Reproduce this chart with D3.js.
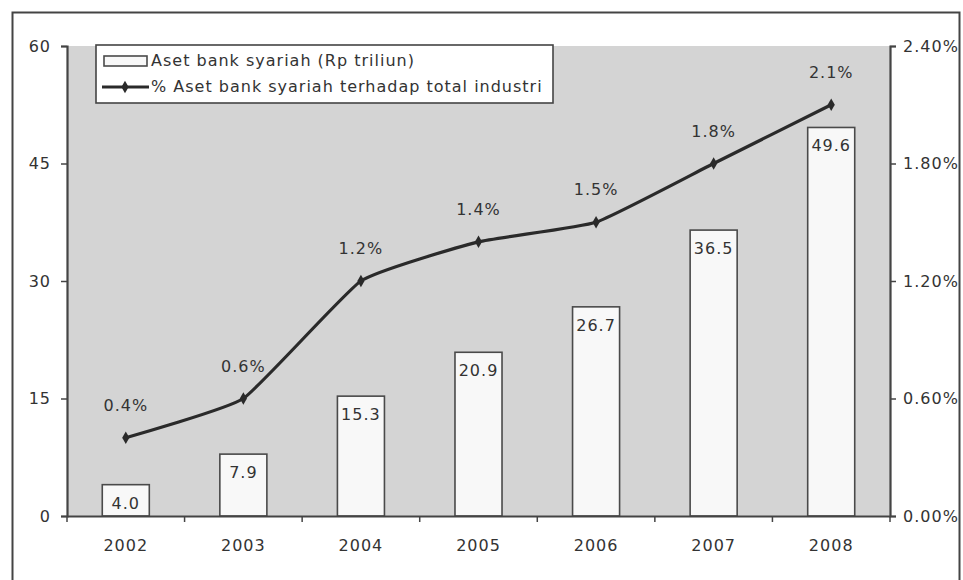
<!DOCTYPE html>
<html>
<head>
<meta charset="utf-8">
<script src="https://cdn.jsdelivr.net/npm/d3@7"></script>
<style>
  html, body { margin: 0; padding: 0; background: #fff; }
  svg { display: block; }
  text { font-family: "DejaVu Sans", Verdana, sans-serif; fill: #333; letter-spacing: 1px; }
</style>
</head>
<body>
<svg id="chart" width="963" height="580"></svg>
<script>
const years = ["2002", "2003", "2004", "2005", "2006", "2007", "2008"];
const assets = [4.0, 7.9, 15.3, 20.9, 26.7, 36.5, 49.6];
const shares = [0.4, 0.6, 1.2, 1.4, 1.5, 1.8, 2.1];
const assetLabels = ["4.0", "7.9", "15.3", "20.9", "26.7", "36.5", "49.6"];
const shareLabels = ["0.4%", "0.6%", "1.2%", "1.4%", "1.5%", "1.8%", "2.1%"];
const leftTicks = [0, 15, 30, 45, 60];
const rightTicks = [0, 0.6, 1.2, 1.8, 2.4];
const legendLabels = ["Aset bank syariah (Rp triliun)", "% Aset bank syariah terhadap total industri"];

const svg = d3.select("#chart");
const FS = 16;
const m = { left: 67, right: 890, top: 46, bottom: 516 };

// outer frame
svg.append("rect").attr("x", 12.5).attr("y", 12.5).attr("width", 947).attr("height", 580)
  .attr("fill", "#fff").attr("stroke", "#444").attr("stroke-width", 2);

const x = d3.scaleBand().domain(years).range([m.left, m.right]).paddingInner(0).paddingOuter(0);
const yL = d3.scaleLinear().domain([0, 60]).range([m.bottom, m.top]);
const yR = d3.scaleLinear().domain([0, 2.4]).range([m.bottom, m.top]);

// plot area
svg.append("rect").attr("x", m.left).attr("y", m.top)
  .attr("width", m.right - m.left).attr("height", m.bottom - m.top)
  .attr("fill", "#d4d4d4");

// bars
const bw = x.bandwidth() * 0.4;
svg.append("g").selectAll("rect").data(assets).join("rect")
  .attr("x", (d, i) => x(years[i]) + (x.bandwidth() - bw) / 2)
  .attr("y", d => yL(d))
  .attr("width", bw)
  .attr("height", d => m.bottom - yL(d))
  .attr("fill", "#f8f8f8").attr("stroke", "#4a4a4a").attr("stroke-width", 1.6);

svg.append("g").selectAll("text").data(assets).join("text")
  .attr("x", (d, i) => x(years[i]) + x.bandwidth() / 2)
  .attr("y", d => yL(d) + 24)
  .attr("text-anchor", "middle").attr("font-size", FS)
  .text((d, i) => assetLabels[i]);

// axes
const axL = d3.axisLeft(yL).tickValues(leftTicks).tickSize(6).tickPadding(10).tickFormat(d3.format("d"));
const gL = svg.append("g").attr("transform", `translate(${m.left},0)`).call(axL);
const axR = d3.axisRight(yR).tickValues(rightTicks).tickSize(6).tickPadding(7).tickFormat(d => d3.format(".2f")(d) + "%");
const gR = svg.append("g").attr("transform", `translate(${m.right},0)`).call(axR);
const axB = d3.axisBottom(x).tickSize(0).tickPadding(24);
const gB = svg.append("g").attr("transform", `translate(0,${m.bottom})`).call(axB);
// category boundary ticks
svg.append("g").selectAll("line").data(d3.range(years.length + 1)).join("line")
  .attr("x1", i => m.left + i * x.step()).attr("x2", i => m.left + i * x.step())
  .attr("y1", m.bottom).attr("y2", m.bottom + 6)
  .attr("stroke", "#444").attr("stroke-width", 1.5);

[gL, gR, gB].forEach(g => {
  g.selectAll(".domain").attr("stroke", "#444").attr("stroke-width", 2.2);
  g.selectAll(".tick line").attr("stroke", "#444").attr("stroke-width", 1.5);
  g.selectAll("text").attr("font-size", FS).attr("fill", "#333")
    .style("font-family", '"DejaVu Sans", Verdana, sans-serif');
});

// line
const px = (d, i) => x(years[i]) + x.bandwidth() / 2;
const line = d3.line().x(px).y(d => yR(d)).curve(d3.curveCardinal.tension(0.6));
svg.append("path").datum(shares).attr("d", line)
  .attr("fill", "none").attr("stroke", "#2a2a2a").attr("stroke-width", 3.2);
svg.append("g").selectAll("path").data(shares).join("path")
  .attr("transform", (d, i) => `translate(${px(d, i)},${yR(d)})`)
  .attr("d", d3.symbol(d3.symbolDiamond, 45)).attr("fill", "#2a2a2a");
svg.append("g").selectAll("text").data(shares).join("text")
  .attr("x", px).attr("y", d => yR(d) - 27)
  .attr("text-anchor", "middle").attr("font-size", FS)
  .text((d, i) => shareLabels[i]);

// legend
const lg = svg.append("g");
lg.append("rect").attr("x", 96).attr("y", 45).attr("width", 457).attr("height", 58)
  .attr("fill", "#fff").attr("stroke", "#444").attr("stroke-width", 1.6);
lg.append("rect").attr("x", 104).attr("y", 56).attr("width", 43).attr("height", 10)
  .attr("fill", "#f8f8f8").attr("stroke", "#4a4a4a").attr("stroke-width", 1.6);
lg.append("line").attr("x1", 102).attr("x2", 149).attr("y1", 87).attr("y2", 87)
  .attr("stroke", "#2a2a2a").attr("stroke-width", 3.2);
lg.append("path").attr("transform", "translate(125,87)")
  .attr("d", d3.symbol(d3.symbolDiamond, 45)).attr("fill", "#2a2a2a");
lg.selectAll("text").data(legendLabels).join("text")
  .attr("x", 151).attr("y", (d, i) => 66 + i * 26)
  .attr("font-size", FS).text(d => d);
</script>
</body>
</html>
